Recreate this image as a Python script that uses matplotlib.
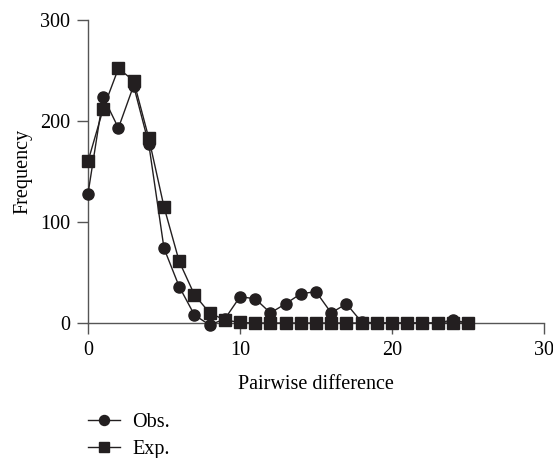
import matplotlib
matplotlib.use("Agg")
import matplotlib.pyplot as plt

x_vals = list(range(26))
obs = [128, 224, 193, 235, 177, 74, 36, 8, -2, 4, 26, 24, 10, 19, 29, 31, 10, 19, 1,
       0, 0, 0, 0, 0, 3, 0]
exp = [160, 212, 252, 240, 183, 115, 61, 28, 10, 3, 0.5, 0, 0, 0, 0, 0, 0, 0, 0,
       0, 0, 0, 0, 0, 0, 0]
x_ticks = [0, 10, 20, 30]
y_ticks = [0, 100, 200, 300]

plt.rcParams['font.family'] = ['Liberation Serif', 'DejaVu Serif']
fs = 14.5

fig = plt.figure(figsize=(5.53, 4.58), dpi=100)
ax = fig.add_axes([88/553, 1-323/458, (544-88)/553, (323-20)/458])

col = '#231f20'
l1, = ax.plot(x_vals, obs, '-o', color=col, lw=1.0, ms=8, clip_on=False, zorder=3, label='Obs.')
l2, = ax.plot(x_vals, exp, '-s', color=col, lw=1.0, ms=8, clip_on=False, zorder=4, label='Exp.')

ax.set_xlim(0, 30)
ax.set_ylim(0, 300)
ax.set_xticks(x_ticks)
ax.set_yticks(y_ticks)
for s in ['top', 'right']:
    ax.spines[s].set_visible(False)
for s in ['left', 'bottom']:
    ax.spines[s].set_color('#555555')
    ax.spines[s].set_linewidth(1.0)
ax.tick_params(direction='out', length=8, width=1.0, color='#555555', labelsize=fs, pad=5)

ax.set_xlabel('Pairwise difference', fontsize=fs, labelpad=11)
ax.set_ylabel('Frequency', fontsize=fs)
ax.yaxis.set_label_coords(-0.121, 0.5)

fig.legend(handles=[l1, l2], loc='lower left', bbox_to_anchor=(70/553, -0.042),
           frameon=False, fontsize=fs, handlelength=1.6, handletextpad=0.6,
           labelspacing=0.42, markerscale=0.9)

fig.savefig('out.png', dpi=100)
